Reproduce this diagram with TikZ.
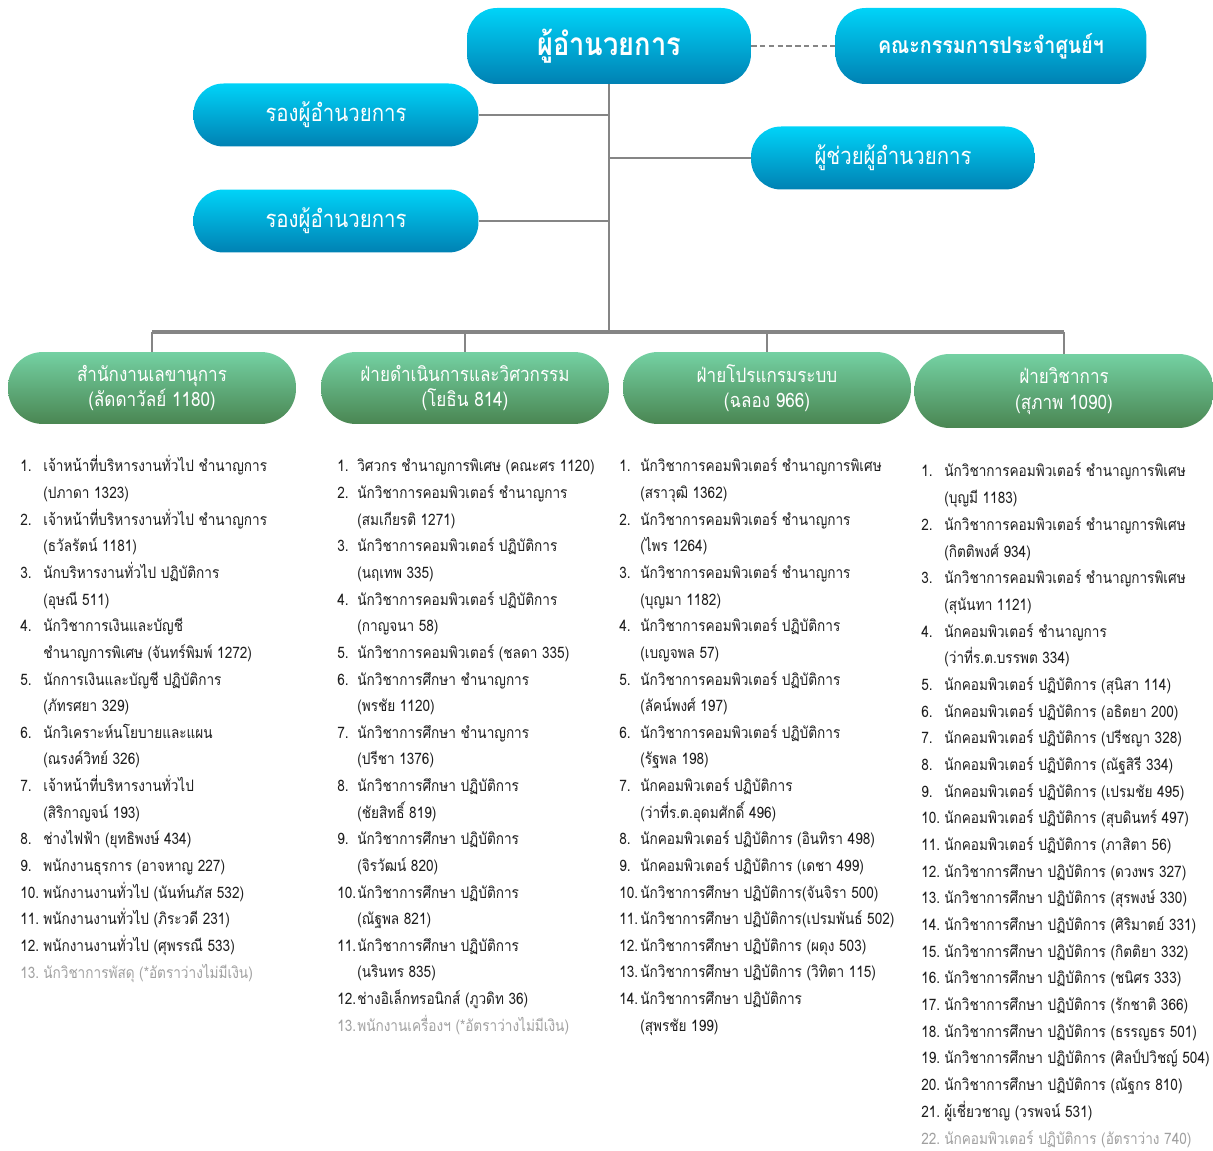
\documentclass[tikz,border=0pt]{standalone}
\usepackage{fontspec}
\setmainfont{Loma}[Script=Thai, FakeStretch=0.86]
\usetikzlibrary{positioning}

\definecolor{headtop}{HTML}{00D3F8}
\definecolor{headbot}{HTML}{0081B3}
\definecolor{unittop}{HTML}{74D1A3}
\definecolor{unitbot}{HTML}{4A8652}
\definecolor{linkgray}{HTML}{858585}
\definecolor{listtext}{HTML}{1E1E1E}
\definecolor{vacant}{HTML}{A0A0A0}

\begin{document}
\begin{tikzpicture}[x=0.02cm, y=-0.02cm,
    headbox/.style={rectangle, rounded corners=0.6cm, top color=headtop, bottom color=headbot,
        draw=none, text=white, align=center, minimum width=5.68cm, minimum height=1.26cm,
        font=\fontsize{13.5}{16}\selectfont},
    unitbox/.style={rectangle, rounded corners=0.7cm, top color=unittop, bottom color=unitbot,
        draw=none, text=white, align=center, minimum width=5.76cm, minimum height=1.44cm,
        font=\fontsize{11.3}{14.5}\selectfont},
    link/.style={draw=linkgray, line width=1.3pt},
    item/.style={anchor=base west, inner sep=0pt, text=listtext, font=\fontsize{9}{11}\selectfont},
    gone/.style={item, text=vacant}]
    \useasboundingbox (0,0) rectangle (1213,1151);

    % top of the chart
    \node (director) [headbox, minimum height=1.52cm, font=\fontsize{18}{20}\bfseries] at (609, 46) {ผู้อำนวยการ};
    \node (board) [headbox, minimum width=6.22cm, minimum height=1.52cm, font=\fontsize{13}{15}\bfseries] at (991, 46) {คณะกรรมการประจำศูนย์ฯ};
    \node (deputy1) [headbox, minimum width=5.7cm] at (336, 115) {รองผู้อำนวยการ};
    \node (deputy2) [headbox, minimum width=5.7cm] at (336, 221) {รองผู้อำนวยการ};
    \node (assistant) [headbox] at (893, 158) {ผู้ช่วยผู้อำนวยการ};

    % the four units
    \node (office) [unitbox] at (152, 388) {สำนักงานเลขานุการ\\(ลัดดาวัลย์ 1180)};
    \node (engineer) [unitbox] at (465, 388) {ฝ่ายดำเนินการและวิศวกรรม\\(โยธิน 814)};
    \node (system) [unitbox] at (767, 388) {ฝ่ายโปรแกรมระบบ\\(ฉลอง 966)};
    \node (academic) [unitbox, minimum width=5.98cm, minimum height=1.48cm] at (1064, 391) {ฝ่ายวิชาการ\\(สุภาพ 1090)};

    \coordinate (bus) at (609, 332);

    \draw[link, dashed, dash pattern=on 3pt off 2pt] (director) -- (board);
    \draw[link] (director) -- (bus);
    \draw[link] (deputy1.east) -- (deputy1.east -| director.south);
    \draw[link] (deputy2.east) -- (deputy2.east -| director.south);
    \draw[link] (assistant.west) -- (assistant.west -| director.south);
    \draw[link, line width=1.8pt] (office.north |- bus) -- (academic.north |- bus);
    \draw[link] (office.north |- bus) -- (office.north);
    \draw[link] (engineer.north |- bus) -- (engineer.north);
    \draw[link] (system.north |- bus) -- (system.north);
    \draw[link] (academic.north |- bus) -- (academic.north);

    % staff of the secretary office
    \foreach \n/\t [count=\i from 0] in {
        1./เจ้าหน้าที่บริหารงานทั่วไป ชำนาญการ, {}/(ปภาดา 1323),
        2./เจ้าหน้าที่บริหารงานทั่วไป ชำนาญการ, {}/(ธวัลรัตน์ 1181),
        3./นักบริหารงานทั่วไป ปฏิบัติการ, {}/(อุษณี 511),
        4./นักวิชาการเงินและบัญชี, {}/ชำนาญการพิเศษ (จันทร์พิมพ์ 1272),
        5./นักการเงินและบัญชี ปฏิบัติการ, {}/(ภัทรศยา 329),
        6./นักวิเคราะห์นโยบายและแผน, {}/(ณรงค์วิทย์ 326),
        7./เจ้าหน้าที่บริหารงานทั่วไป, {}/(สิริกาญจน์ 193),
        8./ช่างไฟฟ้า (ยุทธิพงษ์ 434),
        9./พนักงานธุรการ (อาจหาญ 227),
        10./พนักงานงานทั่วไป (นันท์นภัส 532),
        11./พนักงานงานทั่วไป (ภิระวดี 231),
        12./พนักงานงานทั่วไป (ศุพรรณี 533)} {
        \node (o-n\i) [item] at (20, 472 + \i*26.63) {\n};
        \node (o-t\i) [item] at (43, 472 + \i*26.63) {\t};
    }
    \node (o-n19) [gone] at (20, 978) {13.};
    \node (o-t19) [gone] at (43, 978) {นักวิชาการพัสดุ (*อัตราว่างไม่มีเงิน)};

    % staff of operations and engineering
    \foreach \n/\t [count=\i from 0] in {
        1./วิศวกร ชำนาญการพิเศษ (คณะศร 1120),
        2./นักวิชาการคอมพิวเตอร์ ชำนาญการ, {}/(สมเกียรติ 1271),
        3./นักวิชาการคอมพิวเตอร์ ปฏิบัติการ, {}/(นฤเทพ 335),
        4./นักวิชาการคอมพิวเตอร์ ปฏิบัติการ, {}/(กาญจนา 58),
        5./นักวิชาการคอมพิวเตอร์ (ชลดา 335),
        6./นักวิชาการศึกษา ชำนาญการ, {}/(พรชัย 1120),
        7./นักวิชาการศึกษา ชำนาญการ, {}/(ปรีชา 1376),
        8./นักวิชาการศึกษา ปฏิบัติการ, {}/(ชัยสิทธิ์ 819),
        9./นักวิชาการศึกษา ปฏิบัติการ, {}/(จิรวัฒน์ 820),
        10./นักวิชาการศึกษา ปฏิบัติการ, {}/(ณัฐพล 821),
        11./นักวิชาการศึกษา ปฏิบัติการ, {}/(นรินทร 835),
        12./ช่างอิเล็กทรอนิกส์ (ภูวดิท 36)} {
        \node (e-n\i) [item] at (337, 472 + \i*26.63) {\n};
        \node (e-t\i) [item] at (357, 472 + \i*26.63) {\t};
    }
    \node (e-n21) [gone] at (337, 1031) {13.};
    \node (e-t21) [gone] at (357, 1031) {พนักงานเครื่องฯ (*อัตราว่างไม่มีเงิน)};

    % staff of system programs
    \foreach \n/\t [count=\i from 0] in {
        1./นักวิชาการคอมพิวเตอร์ ชำนาญการพิเศษ, {}/(สราวุฒิ 1362),
        2./นักวิชาการคอมพิวเตอร์ ชำนาญการ, {}/(ไพร 1264),
        3./นักวิชาการคอมพิวเตอร์ ชำนาญการ, {}/(บุญมา 1182),
        4./นักวิชาการคอมพิวเตอร์ ปฏิบัติการ, {}/(เบญจพล 57),
        5./นักวิชาการคอมพิวเตอร์ ปฏิบัติการ, {}/(ลัคน์พงศ์ 197),
        6./นักวิชาการคอมพิวเตอร์ ปฏิบัติการ, {}/(รัฐพล 198),
        7./นักคอมพิวเตอร์ ปฏิบัติการ, {}/(ว่าที่ร.ต.อุดมศักดิ์ 496),
        8./นักคอมพิวเตอร์ ปฏิบัติการ (อินทิรา 498),
        9./นักคอมพิวเตอร์ ปฏิบัติการ (เดชา 499),
        10./นักวิชาการศึกษา ปฏิบัติการ(จันจิรา 500),
        11./นักวิชาการศึกษา ปฏิบัติการ(เปรมพันธ์ 502),
        12./นักวิชาการศึกษา ปฏิบัติการ (ผดุง 503),
        13./นักวิชาการศึกษา ปฏิบัติการ (วิทิตา 115),
        14./นักวิชาการศึกษา ปฏิบัติการ, {}/(สุพรชัย 199)} {
        \node (s-n\i) [item] at (619, 472 + \i*26.63) {\n};
        \node (s-t\i) [item] at (640, 472 + \i*26.63) {\t};
    }

    % staff of academic services
    \foreach \n/\t [count=\i from 0] in {
        1./นักวิชาการคอมพิวเตอร์ ชำนาญการพิเศษ, {}/(บุญมี 1183),
        2./นักวิชาการคอมพิวเตอร์ ชำนาญการพิเศษ, {}/(กิตติพงศ์ 934),
        3./นักวิชาการคอมพิวเตอร์ ชำนาญการพิเศษ, {}/(สุนันทา 1121),
        4./นักคอมพิวเตอร์ ชำนาญการ, {}/(ว่าที่ร.ต.บรรพต 334),
        5./นักคอมพิวเตอร์ ปฏิบัติการ (สุนิสา 114),
        6./นักคอมพิวเตอร์ ปฏิบัติการ (อธิตยา 200),
        7./นักคอมพิวเตอร์ ปฏิบัติการ (ปรีชญา 328),
        8./นักคอมพิวเตอร์ ปฏิบัติการ (ณัฐสิรี 334),
        9./นักคอมพิวเตอร์ ปฏิบัติการ (เปรมชัย 495),
        10./นักคอมพิวเตอร์ ปฏิบัติการ (สุบดินทร์ 497),
        11./นักคอมพิวเตอร์ ปฏิบัติการ (ภาสิตา 56),
        12./นักวิชาการศึกษา ปฏิบัติการ (ดวงพร 327),
        13./นักวิชาการศึกษา ปฏิบัติการ (สุรพงษ์ 330),
        14./นักวิชาการศึกษา ปฏิบัติการ (ศิริมาตย์ 331),
        15./นักวิชาการศึกษา ปฏิบัติการ (กิตติยา 332),
        16./นักวิชาการศึกษา ปฏิบัติการ (ชนิศร 333),
        17./นักวิชาการศึกษา ปฏิบัติการ (รักชาติ 366),
        18./นักวิชาการศึกษา ปฏิบัติการ (ธรรญธร 501),
        19./นักวิชาการศึกษา ปฏิบัติการ (ศิลป์ปวิชญ์ 504),
        20./นักวิชาการศึกษา ปฏิบัติการ (ณัฐกร 810),
        21./ผู้เชี่ยวชาญ (วรพจน์ 531)} {
        \node (a-n\i) [item] at (921, 477 + \i*26.68) {\n};
        \node (a-t\i) [item] at (944, 477 + \i*26.68) {\t};
    }
    \node (a-n25) [gone] at (921, 1144) {22.};
    \node (a-t25) [gone] at (944, 1144) {นักคอมพิวเตอร์ ปฏิบัติการ (อัตราว่าง 740)};
\end{tikzpicture}
\end{document}
